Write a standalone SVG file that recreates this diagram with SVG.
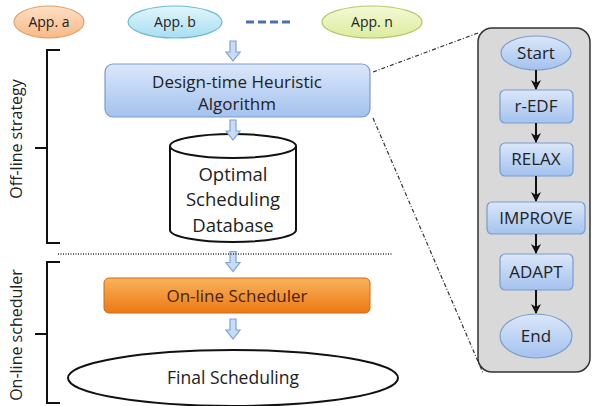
<svg xmlns="http://www.w3.org/2000/svg" width="592" height="406" viewBox="0 0 592 406">
<defs>
<linearGradient id="gBlue" x1="0" y1="0" x2="0" y2="1"><stop offset="0" stop-color="#dbe7fa"/><stop offset="1" stop-color="#a3c2ee"/></linearGradient>
<linearGradient id="gOrange" x1="0" y1="0" x2="0" y2="1"><stop offset="0" stop-color="#f9b25a"/><stop offset="1" stop-color="#ec7a14"/></linearGradient>
<linearGradient id="gA" x1="0" y1="0" x2="0" y2="1"><stop offset="0" stop-color="#fde0c4"/><stop offset="1" stop-color="#f8b987"/></linearGradient>
<linearGradient id="gB" x1="0" y1="0" x2="0" y2="1"><stop offset="0" stop-color="#e2f6fc"/><stop offset="1" stop-color="#a7def2"/></linearGradient>
<linearGradient id="gN" x1="0" y1="0" x2="0" y2="1"><stop offset="0" stop-color="#f4f9d6"/><stop offset="1" stop-color="#dcec9e"/></linearGradient>
<marker id="ah" viewBox="0 0 10 10" refX="9" refY="5" markerWidth="5" markerHeight="5" orient="auto"><path d="M0,0 L10,5 L0,10 L3,5 z" fill="#111"/></marker>
<symbol id="barrow" viewBox="0 0 14 20" overflow="visible"><path d="M4,0 H10 V11 H14 L7,20 L0,11 H4 Z" fill="#c9dcf5" stroke="#7da2d6" stroke-width="1.2"/></symbol>
</defs>
<style>
text{font-family:"Open Sans","Liberation Sans",sans-serif;fill:#222;text-anchor:middle}
.box{fill:url(#gBlue);stroke:#7a9ccc;stroke-width:1.2}
.blk{fill:none;stroke:#111;stroke-width:2}
.con{stroke:#111;stroke-width:2;fill:none;marker-end:url(#ah)}
.dd{stroke:#333;stroke-width:1.2;fill:none;stroke-dasharray:4,2,1,2}
.app{font-size:14px}
.pn{font-size:17px}
.side{font-size:16px}
</style>
<rect width="592" height="406" fill="#fff"/>

<g id="appA"><ellipse cx="49" cy="22" rx="35" ry="16" fill="url(#gA)" stroke="#e3a06a" stroke-width="1.2"/><text x="49" y="27" class="app">App. a</text></g>
<g id="appB"><ellipse cx="175" cy="22" rx="47" ry="16" fill="url(#gB)" stroke="#6cb8d3" stroke-width="1.2"/><text x="175" y="27" class="app">App. b</text></g>
<g id="appN"><ellipse cx="372" cy="22" rx="50" ry="16" fill="url(#gN)" stroke="#b8c86a" stroke-width="1.2"/><text x="372" y="27" class="app">App. n</text></g>
<g id="dashes"><line x1="246" y1="22" x2="292" y2="22" stroke="#4a6fb5" stroke-width="3" stroke-dasharray="8,4"/></g>

<g id="design"><rect x="105" y="64" width="265" height="53" rx="8" class="box"/><text x="237" y="88" font-size="17">Design-time Heuristic</text><text x="237" y="110" font-size="17">Algorithm</text></g>

<g id="database"><path d="M170,146 V230 A63,12 0 0 0 296,230 V146" fill="#fff" stroke="#111" stroke-width="2"/><ellipse cx="233" cy="146" rx="63" ry="12" fill="#fff" stroke="#111" stroke-width="2"/><text x="233" y="181" font-size="18.5">Optimal</text><text x="233" y="206" font-size="18.5">Scheduling</text><text x="233" y="232" font-size="18.5">Database</text></g>

<g id="online"><rect x="104" y="278" width="266" height="35" rx="5" fill="url(#gOrange)" stroke="#d06a10" stroke-width="1"/><text x="237" y="302" font-size="17" style="fill:#4a2406">On-line Scheduler</text></g>

<g id="final"><ellipse cx="233" cy="378" rx="165" ry="28" fill="#fff" stroke="#111" stroke-width="2"/><text x="233" y="384" font-size="17.5">Final Scheduling</text></g>

<g id="offlineBrace"><path d="M60,50 H47 V243 H60 M47,148 H35" class="blk"/><text transform="translate(22,139) rotate(-90)" class="side">Off-line strategy</text></g>
<g id="onlineBrace"><path d="M60,262 H47 V403 H60 M47,334 H35" class="blk"/><text transform="translate(22,335) rotate(-90)" class="side">On-line scheduler</text></g>

<g id="panel"><rect x="478" y="28" width="112" height="344" rx="14" fill="#d9d9d9" stroke="#333" stroke-width="1.5"/></g>
<g id="start"><ellipse cx="536" cy="53" rx="35" ry="17" fill="url(#gBlue)" stroke="#7a9ccc" stroke-width="1.2"/><text x="536" y="59" class="pn">Start</text></g>
<g id="redf"><rect x="500" y="90" width="73" height="33" rx="5" class="box"/><text x="536" y="112" class="pn">r-EDF</text></g>
<g id="relax"><rect x="500" y="143" width="73" height="33" rx="5" class="box"/><text x="536" y="165" class="pn">RELAX</text></g>
<g id="improve"><rect x="487" y="202" width="98" height="32" rx="5" class="box"/><text x="536" y="224" class="pn">IMPROVE</text></g>
<g id="adapt"><rect x="500" y="254" width="73" height="36" rx="5" class="box"/><text x="536" y="278" class="pn">ADAPT</text></g>
<g id="end"><ellipse cx="536" cy="336" rx="36" ry="22" fill="url(#gBlue)" stroke="#7a9ccc" stroke-width="1.2"/><text x="536" y="342" class="pn">End</text></g>

<g id="connectors">
<use href="#barrow" x="226" y="41" width="14" height="20"/>
<use href="#barrow" x="226" y="120" width="14" height="20"/>
<use href="#barrow" x="226" y="251" width="14" height="21"/>
<use href="#barrow" x="226" y="318" width="14" height="22"/>
<line x1="58" y1="254" x2="392" y2="254" stroke="#333" stroke-width="1.5" stroke-dasharray="1,1.5"/>
<line x1="373" y1="72" x2="478" y2="33" class="dd"/>
<line x1="373" y1="118" x2="483" y2="373" class="dd"/>
<line x1="536" y1="70" x2="536" y2="89" class="con"/>
<line x1="536" y1="123" x2="536" y2="142" class="con"/>
<line x1="536" y1="176" x2="536" y2="201" class="con"/>
<line x1="536" y1="234" x2="536" y2="253" class="con"/>
<line x1="536" y1="290" x2="536" y2="313" class="con"/>
</g>
</svg>
